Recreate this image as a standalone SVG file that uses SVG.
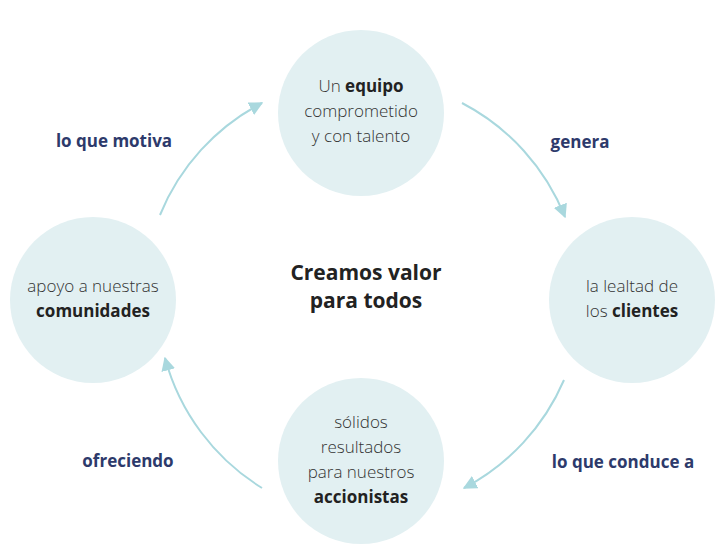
<svg xmlns="http://www.w3.org/2000/svg" width="728" height="547" viewBox="0 0 728 547">
<style>
.n{fill:#e2f0f2}
.t{font-family:"Open Sans","Liberation Sans",sans-serif;font-size:17px;fill:#333;text-anchor:middle;font-weight:300}
.b{font-weight:700;fill:#222}
.l{font-family:"Open Sans","Liberation Sans",sans-serif;font-size:17px;font-weight:700;fill:#2d3a6b;text-anchor:middle}
.c{fill:none;stroke:#a9d8de;stroke-width:2}
</style>
<defs><marker id="a" viewBox="0 0 10 10" refX="9" refY="5" markerWidth="7" markerHeight="7" orient="auto"><path d="M0,0L10,5L0,10z" fill="#a9d8de"/></marker></defs>
<rect width="728" height="547" fill="#fff"/>
<g id="connectors">
<path class="c" marker-end="url(#a)" d="M462,103 A220,220 0 0 1 565,217"/>
<path class="c" marker-end="url(#a)" d="M564,380 A220,220 0 0 1 464,488"/>
<path class="c" marker-end="url(#a)" d="M262,488 A220,220 0 0 1 165,358"/>
<path class="c" marker-end="url(#a)" d="M160,215 A220,220 0 0 1 262,103"/>
</g>
<g id="top"><circle class="n" cx="361" cy="113" r="83"/><text class="t" x="361" y="92">Un <tspan class="b">equipo</tspan></text><text class="t" x="361" y="117">comprometido</text><text class="t" x="361" y="142">y con talento</text></g>
<g id="right"><circle class="n" cx="632" cy="300" r="83"/><text class="t" x="632" y="292">la lealtad de</text><text class="t" x="632" y="317">los <tspan class="b">clientes</tspan></text></g>
<g id="bottom"><circle class="n" cx="361" cy="461" r="83"/><text class="t" x="361" y="428">sólidos</text><text class="t" x="361" y="453">resultados</text><text class="t" x="361" y="478">para nuestros</text><text class="t b" x="361" y="503">accionistas</text></g>
<g id="left"><circle class="n" cx="93" cy="300" r="83"/><text class="t" x="93" y="292">apoyo a nuestras</text><text class="t b" x="93" y="317">comunidades</text></g>
<g id="center"><text class="l" x="366" y="280" style="font-size:21px;fill:#222">Creamos valor</text><text class="l" x="366" y="308" style="font-size:21px;fill:#222">para todos</text></g>
<text class="l" x="114" y="147">lo que motiva</text>
<text class="l" x="580" y="148">genera</text>
<text class="l" x="623" y="468">lo que conduce a</text>
<text class="l" x="128" y="467">ofreciendo</text>
</svg>
